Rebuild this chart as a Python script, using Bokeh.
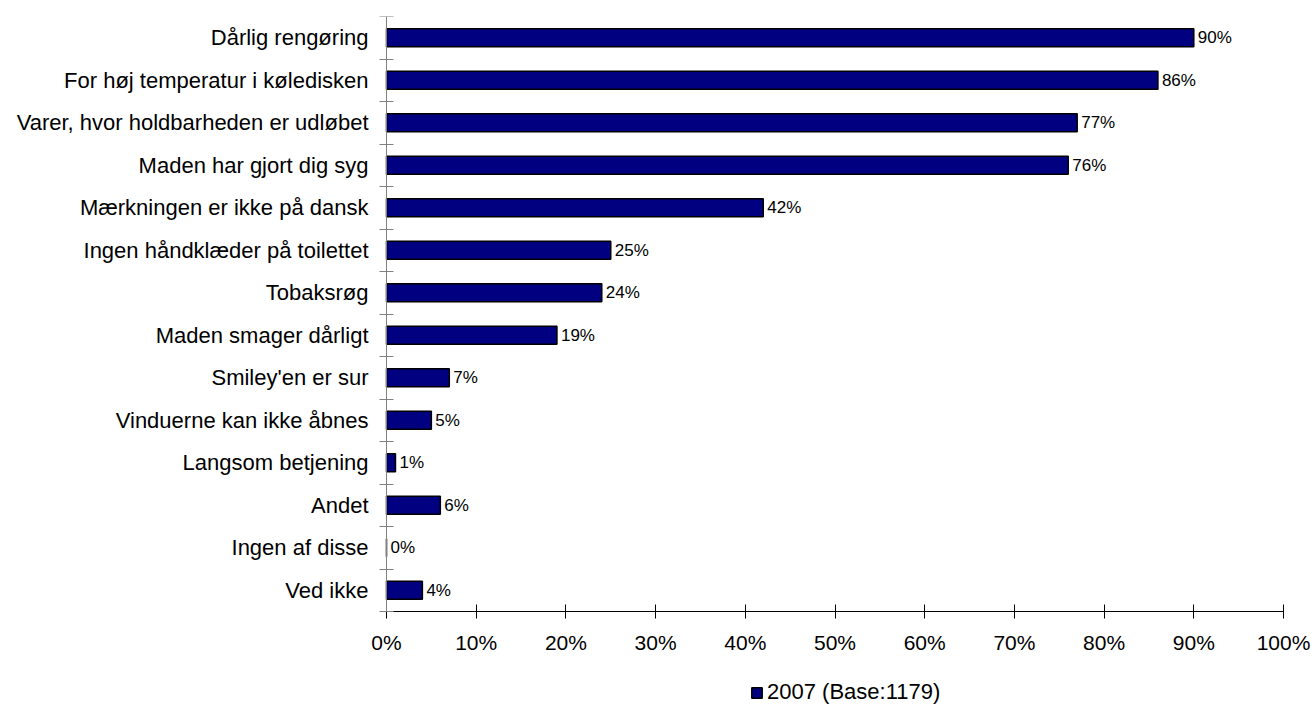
from bokeh.plotting import figure
from bokeh.models import (Range1d, FixedTicker, CustomJSTickFormatter, PrintfTickFormatter,
                          Legend, LegendItem, ColumnDataSource)
from bokeh.core.properties import value
from bokeh.embed import file_html
from bokeh.resources import INLINE

categories = [
    "Dårlig rengøring",
    "For høj temperatur i køledisken",
    "Varer, hvor holdbarheden er udløbet",
    "Maden har gjort dig syg",
    "Mærkningen er ikke på dansk",
    "Ingen håndklæder på toilettet",
    "Tobaksrøg",
    "Maden smager dårligt",
    "Smiley'en er sur",
    "Vinduerne kan ikke åbnes",
    "Langsom betjening",
    "Andet",
    "Ingen af disse",
    "Ved ikke",
]
values_2007 = [90, 86, 77, 76, 42, 25, 24, 19, 7, 5, 1, 6, 0, 4]
x_ticks = [0, 10, 20, 30, 40, 50, 60, 70, 80, 90, 100]
series_label = "2007 (Base:1179)"

FONT = "Liberation Sans"
n = len(categories)
ypos = [i + 0.5 for i in range(n)]
bounds = list(range(n + 1))

# layout constants (pixels)
W, H, TOP = 1315, 706, 16
AXIS_X0, AXIS_X1 = 386, 1283      # where 0% and 100% sit
BLOCK_H = 595                      # height of the category block
px_per_pct = (AXIS_X1 - AXIS_X0) / 100.0
x_start = -AXIS_X0 / px_per_pct
x_end = (W - AXIS_X0) / px_per_pct
y_bottom = n * (H - TOP) / BLOCK_H

src = ColumnDataSource(dict(
    y=ypos,
    v=values_2007,
    lbl=[f"{v}%" for v in values_2007],
))

p = figure(width=W, height=H, output_backend="svg", toolbar_location=None,
           x_range=Range1d(x_start, x_end), y_range=Range1d(y_bottom, 0),
           min_border_left=0, min_border_right=0, min_border_top=TOP, min_border_bottom=0)
p.outline_line_color = None
p.xgrid.visible = False
p.ygrid.visible = False

r = p.hbar(y="y", left=0, right="v", height=0.42, fill_color="#000080",
           line_color="black", line_width=1.5, source=src)

p.text(x="v", y="y", text="lbl", x_offset=4, text_baseline="middle", text_align="left",
       text_font=value(FONT), text_font_size="17px", text_color="black", source=src)

# y axis pinned at 0%
p.yaxis.fixed_location = 0
p.yaxis.bounds = (0, n)
p.yaxis.ticker = FixedTicker(ticks=ypos, minor_ticks=bounds)
p.yaxis.formatter = CustomJSTickFormatter(args=dict(labels=categories),
                                          code="return labels[Math.floor(tick)];")
p.yaxis.major_tick_in = 0
p.yaxis.major_tick_out = 0
p.yaxis.minor_tick_in = 7
p.yaxis.minor_tick_out = 7
p.yaxis.minor_tick_line_color = "#808080"
p.yaxis.axis_line_color = "#808080"
p.yaxis.major_label_standoff = 11
p.yaxis.major_label_text_font = FONT
p.yaxis.major_label_text_font_size = "22px"
p.yaxis.major_label_text_color = "black"

# x axis pinned at the bottom of the category block
p.xaxis.fixed_location = n
p.xaxis.bounds = (0, 100)
p.xaxis.ticker = FixedTicker(ticks=x_ticks)
p.xaxis.formatter = PrintfTickFormatter(format="%d%%")
p.xaxis.major_tick_in = 7
p.xaxis.major_tick_out = 7
p.xaxis.major_tick_line_color = "black"
p.xaxis.minor_tick_line_color = None
p.xaxis.axis_line_color = "black"
p.xaxis.major_label_standoff = 12
p.xaxis.major_label_text_font = FONT
p.xaxis.major_label_text_font_size = "21px"
p.xaxis.major_label_text_color = "black"

legend = Legend(items=[LegendItem(label=series_label, renderers=[r])],
                location=(750, 1), glyph_width=13, glyph_height=13,
                label_text_font=FONT, label_text_font_size="22px", label_text_color="black",
                padding=0, margin=0, spacing=0, label_standoff=4,
                border_line_color=None, background_fill_alpha=0)
p.add_layout(legend)

open("out.html", "w").write(file_html(p, INLINE))
